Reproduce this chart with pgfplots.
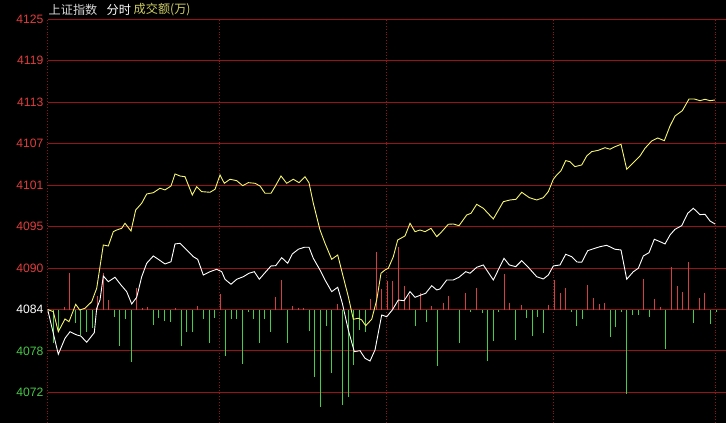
\documentclass[border=0pt]{standalone}
\usepackage{pgfplots}
\pgfplotsset{compat=1.18}
\usepackage{pgfplotstable}
\usepackage{fontspec}
\setmainfont{Liberation Sans}
\newfontfamily\cjk{Noto Sans CJK SC}
\definecolor{gridred}{RGB}{150,20,20}
\definecolor{labred}{RGB}{225,60,60}
\definecolor{labgreen}{RGB}{70,200,70}
\definecolor{barred}{RGB}{210,65,65}
\definecolor{bargreen}{RGB}{70,205,70}
\definecolor{lineyellow}{RGB}{245,245,110}
\definecolor{titleyellow}{RGB}{205,205,100}
\definecolor{titlegray}{RGB}{215,215,215}

\pgfplotstableread{
x y
47.7 4084.00
53.3 4083.69
58.3 4080.86
65.0 4082.66
69.0 4082.28
75.7 4084.73
79.7 4083.93
85.0 4084.17
91.7 4085.10
96.7 4087.00
100.0 4090.05
103.3 4093.11
108.3 4092.97
113.3 4094.99
116.7 4095.23
121.7 4095.47
125.0 4096.18
131.0 4095.09
135.7 4098.06
141.7 4099.01
146.7 4100.32
153.3 4100.50
160.0 4101.13
165.0 4100.89
171.0 4101.45
175.0 4103.15
180.0 4102.86
185.0 4102.76
192.3 4100.18
196.7 4101.35
201.7 4100.65
210.0 4100.56
215.0 4100.98
220.0 4103.00
224.3 4101.83
230.0 4102.40
236.7 4102.20
242.7 4101.49
248.3 4101.92
255.0 4101.83
260.0 4101.45
265.0 4100.42
271.0 4100.42
275.0 4101.35
281.0 4102.86
286.7 4101.83
293.3 4102.40
299.0 4101.92
305.0 4102.76
309.0 4101.90
313.3 4099.01
320.0 4095.23
325.0 4093.35
331.7 4091.09
337.7 4091.70
342.3 4089.12
348.3 4085.81
353.3 4082.62
358.3 4082.76
361.7 4082.52
365.7 4081.71
371.7 4082.62
376.7 4085.34
381.0 4089.12
385.0 4089.58
388.3 4089.82
393.3 4091.46
397.7 4093.82
405.0 4094.39
410.0 4096.18
415.0 4094.99
420.0 4095.23
425.0 4094.99
431.0 4095.47
436.7 4094.29
441.7 4094.99
448.3 4096.04
453.3 4096.08
459.0 4095.84
466.7 4097.35
471.0 4097.59
476.7 4098.86
483.3 4098.30
493.3 4096.79
503.3 4099.23
510.0 4099.47
516.0 4099.57
521.7 4100.56
529.3 4099.80
536.7 4099.47
543.3 4099.80
548.3 4100.65
553.3 4102.40
556.7 4103.00
561.0 4103.61
565.7 4105.03
570.0 4104.88
575.0 4104.18
581.7 4104.42
586.7 4105.69
591.7 4106.30
598.3 4106.49
605.0 4106.86
610.0 4106.64
615.0 4107.00
621.0 4107.34
626.7 4103.81
633.3 4104.74
640.0 4105.69
645.0 4106.78
651.7 4107.81
657.7 4108.23
664.3 4107.85
670.0 4109.93
675.0 4111.34
682.3 4112.09
689.0 4113.74
694.3 4113.74
700.0 4113.50
705.0 4113.70
710.0 4113.50
715.0 4113.60
}\yellowdata

\pgfplotstableread{
x y
47.7 4083.97
53.3 4080.64
58.3 4077.67
65.0 4079.93
70.0 4080.86
76.7 4080.40
80.7 4080.26
86.7 4079.37
94.3 4080.72
96.7 4084.17
100.0 4085.34
103.3 4088.73
108.3 4087.93
115.0 4088.55
121.0 4087.46
126.7 4086.52
131.7 4084.78
136.7 4085.72
141.7 4088.63
146.7 4090.53
153.3 4091.56
158.3 4091.09
165.0 4090.43
171.0 4090.75
175.0 4093.26
180.0 4093.35
186.7 4092.41
193.3 4091.46
197.7 4091.09
203.3 4088.87
210.0 4089.34
216.7 4089.68
221.7 4089.34
225.0 4088.27
231.0 4087.56
236.7 4088.27
243.3 4088.63
249.0 4089.12
254.3 4089.34
259.3 4088.27
265.0 4089.20
271.0 4090.15
275.7 4090.19
281.7 4091.32
287.7 4090.53
292.3 4091.84
298.3 4092.51
304.3 4092.79
309.0 4092.79
313.3 4091.23
320.0 4089.58
325.0 4088.17
331.7 4086.52
337.7 4087.14
342.3 4084.88
348.3 4081.10
354.3 4078.04
360.0 4078.18
365.0 4077.10
370.0 4076.72
375.0 4078.28
381.7 4083.22
386.7 4082.98
392.3 4083.93
398.3 4085.34
404.0 4085.24
410.0 4086.52
415.0 4085.72
421.0 4086.05
425.7 4086.29
431.7 4087.36
436.7 4086.76
440.0 4086.90
446.7 4088.17
453.3 4088.17
459.0 4088.55
465.7 4089.34
470.0 4089.12
476.7 4089.96
483.3 4090.29
493.3 4088.17
504.0 4091.23
509.3 4090.29
515.7 4090.05
521.7 4090.90
527.7 4090.05
536.7 4088.63
543.3 4088.31
548.3 4088.87
553.3 4090.15
560.0 4090.29
565.7 4091.80
571.7 4091.46
577.0 4090.71
581.7 4090.67
587.7 4092.31
595.0 4092.65
600.0 4092.87
606.7 4093.07
615.0 4092.51
621.0 4092.41
626.7 4088.27
633.3 4089.34
638.3 4089.82
643.3 4091.56
649.0 4092.03
654.3 4093.92
660.0 4093.58
665.0 4093.26
670.0 4094.53
675.0 4095.33
681.7 4095.84
687.7 4097.59
693.3 4098.30
700.0 4097.40
705.0 4097.45
710.0 4096.50
715.0 4096.08
}\whitedata

\pgfplotstableread{
x v
64.3 3
69.0 36.2
97.3 13.5
103.3 36.2
108.3 9.5
136.7 21.2
142.3 2
147.3 2.8
175.0 2
197.3 3.8
220.0 15.5
275.0 12.8
281.3 29.5
292.3 3.5
298.3 2
303.3 1.5
337.3 5.5
370.3 10.2
376.3 57.5
381.3 20.5
387.3 28.5
392.3 28.5
398.3 62.5
404.0 23.5
409.3 14.5
420.3 16.2
431.7 3.8
443.3 6.8
448.3 13.5
465.3 16.8
476.3 21.8
504.3 35.8
509.3 6.8
521.3 4.5
548.3 4.5
554.3 29.5
560.0 16.2
565.0 21.8
587.3 24.5
593.3 11.2
599.0 5.5
604.3 6.2
643.3 30.2
654.3 10.5
660.3 2.2
671.7 42.2
677.0 23.5
682.3 17.8
688.7 47.2
699.3 11.2
704.7 16.2
}\redbars

\pgfplotstableread{
x v
53.3 -33.2
58.3 -22.2
75.0 -13.8
80.0 -25.5
86.3 -22.2
92.7 -18.8
114.3 -7.2
119.3 -36.2
125.0 -9.8
131.3 -52.2
153.3 -15.5
158.3 -8.2
164.3 -11.2
170.3 -12.2
181.3 -36.2
186.7 -22.2
192.3 -22.2
203.3 -9.5
209.3 -33.8
214.3 -8.2
225.3 -46.2
231.0 -9.5
236.3 -9.5
242.3 -54.8
248.3 -2.2
253.3 -9.5
259.3 -33.8
264.3 -9.8
270.7 -22.8
287.3 -33.2
309.3 -21.2
314.3 -67.2
320.3 -97.2
326.3 -16.2
331.7 -63.8
342.7 -95.5
348.3 -87.2
353.3 -55.5
359.3 -20.5
365.3 -22.8
415.3 -16.2
426.3 -12.2
437.7 -56.2
459.3 -33.2
470.7 -2
482.3 -3.2
487.3 -51.2
493.3 -31.2
498.3 -2.2
515.3 -30.5
526.7 -8.2
532.3 -26.2
537.3 -7.2
543.3 -23.8
571.7 -2.2
576.7 -16.2
582.3 -9.5
610.7 -27.2
615.7 -17.2
621.3 -2.2
626.7 -84.8
632.3 -5.5
638.3 -5.5
649.3 -7.2
665.7 -39.8
693.3 -13.8
710.3 -14.8
716.5 -2.5
}\greenbars

\begin{document}
\begin{tikzpicture}[x=1bp,y=1bp]
\fill[black] (0,0) rectangle (726,423);
\useasboundingbox (0,0) rectangle (726,423);
\pgfplotsset{
  frame/.style={
    at={(47.5bp,0bp)}, anchor=south west,
    scale only axis, width=678.5bp, height=403.7bp,
    xmin=47.5, xmax=726, clip=true,
  }
}
% grid and labels
\begin{axis}[frame,
  ymin=4067.96, ymax=4125.0,
  axis line style={draw=none},
  xtick={219,386.7,553.7}, xticklabels={},
  extra x ticks={47.8,715.7}, extra x tick labels={},
  extra x tick style={grid=major, major grid style={gridred, line width=1bp, solid}},
  xmajorgrids, major tick length=0pt,
  x grid style={gridred, line width=0.9bp, dotted},
  ytick={4072.29,4078.14,4084,4089.86,4095.71,4101.57,4107.43,4113.29,4119.14,4125.0},
  yticklabels={\textcolor{labgreen}{4072},\textcolor{labgreen}{4078},\textcolor{white}{4084},\textcolor{labred}{4090},\textcolor{labred}{4095},\textcolor{labred}{4101},\textcolor{labred}{4107},\textcolor{labred}{4113},\textcolor{labred}{4119},\textcolor{labred}{4125}},
  ymajorgrids,
  y grid style={gridred, line width=1bp},
  yticklabel style={font=\fontsize{12.2}{12}\selectfont, inner sep=0pt, xshift=-4bp},
  extra y ticks={4084}, extra y tick labels={},
  extra y tick style={grid=major, major grid style={gridred, line width=2.2bp}},
]
\end{axis}
% volume bars
\begin{axis}[frame, hide axis, ymin=-113.5, ymax=290.2]
\addplot[ycomb, barred, line width=1bp] table[x=x, y=v] {\redbars};
\addplot[ycomb, bargreen, line width=1bp] table[x=x, y=v] {\greenbars};
\end{axis}
% price lines
\begin{axis}[frame, hide axis, ymin=4067.96, ymax=4125.0]
\addplot[lineyellow, line width=0.9bp] table[x=x, y=y] {\yellowdata};
\addplot[white, line width=0.9bp] table[x=x, y=y] {\whitedata};
\end{axis}
% title
\node[anchor=west, inner sep=0pt, font=\cjk\fontsize{12.2}{12}\selectfont, text=titlegray] at (48.5,413.5) {上证指数};
\node[anchor=west, inner sep=0pt, font=\cjk\fontsize{12.2}{12}\selectfont, text=white] at (106.5,413.5) {分时};
\node[anchor=west, inner sep=0pt, font=\cjk\fontsize{12.2}{12}\selectfont, text=titleyellow] at (133.5,413.5) {成交额(万)};
\end{tikzpicture}
\end{document}
